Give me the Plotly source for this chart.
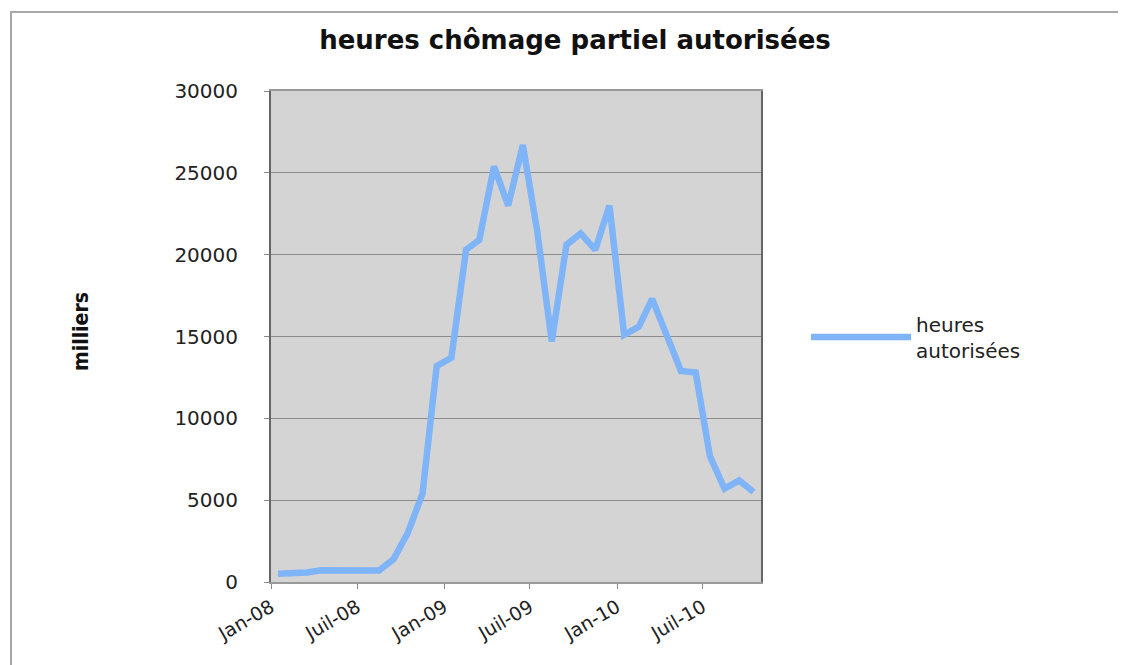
import plotly.graph_objects as go
import pandas as pd

# Data (thousands of hours), monthly Jan-2008 .. Oct-2010
months = pd.date_range("2008-01-01", periods=34, freq="MS")
heures_autorisees = [500, 520, 580, 720, 700, 680, 660, 700, 1400, 3000,
                     5400, 13200, 13700, 20300, 20900, 25400, 23000, 26700, 21500, 14700,
                     20600, 21300, 20300, 23000, 15100, 15600, 17300, 15000, 12900, 12800,
                     7700, 5700, 6200, 5500]
tick_dates = ["2008-01-01", "2008-07-01", "2009-01-01", "2009-07-01", "2010-01-01", "2010-07-01"]
tick_labels = ["Jan-08", "Juil-08", "Jan-09", "Juil-09", "Jan-10", "Juil-10"]
y_ticks = [0, 5000, 10000, 15000, 20000, 25000, 30000]

# points sit in the middle of each month
x_mid = [m + pd.Timedelta(days=15) for m in months]

fig = go.Figure()
fig.add_trace(go.Scatter(
    x=x_mid, y=heures_autorisees, mode="lines",
    name="heures<br>autorisées",
    line=dict(color="#80b4f8", width=6.5),
))

OFF = 8  # page body margin
W, H = 1126 - OFF, 665 - OFF
L, R, T, B = 271 - OFF, 761 - OFF, 91 - OFF, 582 - OFF
pw, ph = R - L, B - T

def px_x(p):
    return (p - OFF - L) / pw

def px_y(p):
    return (B - (p - OFF)) / ph

fig.update_layout(
    width=W, height=H,
    margin=dict(l=L, r=W - R, t=T, b=H - B),
    paper_bgcolor="white",
    plot_bgcolor="#d4d4d4",
    font=dict(family="DejaVu Sans", color="#222"),
    title=dict(text="<b>heures chômage partiel autorisées</b>",
               x=(575 - OFF) / W, xanchor="center", xref="container",
               y=1 - (40 - OFF) / H, yanchor="middle", yref="container",
               font=dict(family="DejaVu Sans", size=26, color="#111")),
    showlegend=True,
    legend=dict(x=px_x(806), xanchor="left", y=px_y(337), yanchor="middle",
                font=dict(family="DejaVu Sans", size=20, color="#222"),
                itemwidth=100, bgcolor="rgba(0,0,0,0)"),
    xaxis=dict(
        type="date",
        range=["2008-01-01", "2010-11-01"],
        tickmode="array", tickvals=tick_dates, ticktext=tick_labels,
        tickangle=-30,
        tickfont=dict(family="DejaVu Sans", size=19, color="#222"),
        ticks="outside", ticklen=5, tickcolor="#888",
        showgrid=False, zeroline=False,
        showline=True, linecolor="#999", linewidth=2, mirror=True,
    ),
    yaxis=dict(
        range=[0, 30000],
        tickmode="array", tickvals=y_ticks,
        ticktext=[str(v) for v in y_ticks],
        tickfont=dict(family="DejaVu Sans", size=20, color="#222"),
        ticks="outside", ticklen=5, tickcolor="#888",
        ticklabelstandoff=22,
        showgrid=True, gridcolor="#8c8c8c", gridwidth=1,
        zeroline=False,
        showline=True, linecolor="#666", linewidth=2, mirror=True,
    ),
    annotations=[dict(
        text="<b>milliers</b>", textangle=-90,
        x=px_x(81), y=px_y(332), xref="paper", yref="paper",
        xanchor="center", yanchor="middle", showarrow=False,
        font=dict(family="Liberation Sans Narrow, DejaVu Sans Condensed, Liberation Sans", size=21, color="#111"),
    )],
    shapes=[dict(
        type="rect", xref="paper", yref="paper",
        x0=px_x(11), x1=px_x(1160), y0=px_y(700), y1=px_y(12),
        line=dict(color="#a8a8a8", width=2), fillcolor="rgba(0,0,0,0)", layer="below",
    )],
)

fig.write_html("out.html")
